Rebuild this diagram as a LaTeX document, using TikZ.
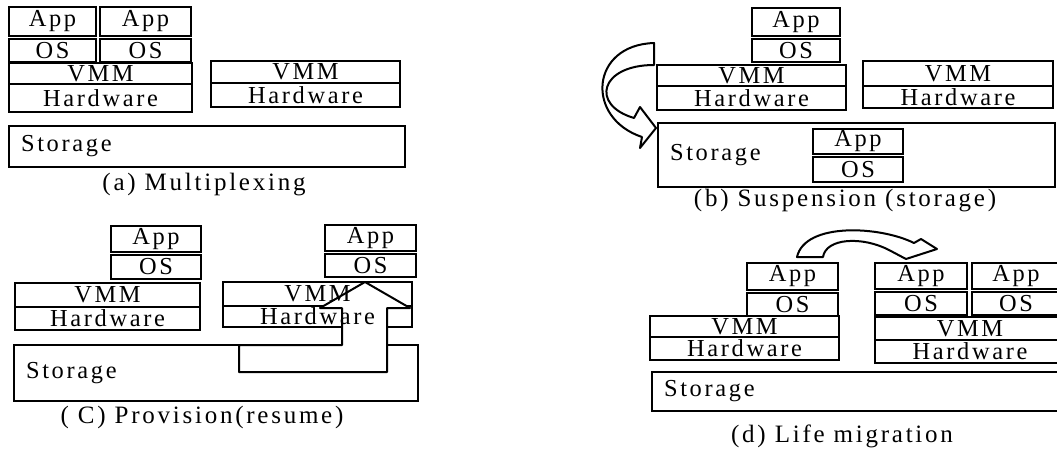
\documentclass[tikz,border=0pt]{standalone}
\usepackage{fontspec}
\setmainfont{Liberation Serif}[LetterSpace=11]
\usepackage{tikz}
\usetikzlibrary{positioning,backgrounds}

\begin{document}
\begin{tikzpicture}[x=0.5pt,y=-0.5pt]
\tikzstyle{layer}=[draw, line width=1pt, inner sep=0pt, outer sep=0pt, anchor=north west, font=\fontsize{12.2}{14}\selectfont]
\tikzstyle{stor}=[layer, align=left, inner xsep=6pt]
\tikzstyle{figcaption}=[font=\fontsize{12.5}{14}\selectfont]
\tikzstyle{blockarrow}=[line width=1pt, line join=round]
\tikzset{bw/.style={minimum width=#1*0.5pt}, bh/.style={minimum height=#1*0.5pt}}
\useasboundingbox (0,0) rectangle (1057,451);

% (a)
\node[layer, bw=87, bh=29] (appA1) at (9,7) {App};
\node[layer, bw=87, bh=23, below=1.5pt of appA1] (osA1) {OS};
\node[layer, bw=91, bh=29] (appA2) at (100,7) {App};
\node[layer, bw=91, bh=23, below=1.5pt of appA2] (osA2) {OS};
\node[layer, bw=183, bh=21] (vmmA1) at (9,63) {VMM};
\node[layer, bw=183, bh=28, below=0pt of vmmA1] (hwA1) {Hardware};
\node[layer, bw=189, bh=22] (vmmA2) at (211,61) {VMM};
\node[layer, bw=189, bh=24, below=0pt of vmmA2] (hwA2) {Hardware};
\node[stor, text width=186pt, bh=41] (storA) at (9,126) {Storage};
\node[figcaption] (capA) at (204,185) {(a) Multiplexing};

% (b)
\node[layer, bw=88, bh=28] (appB1) at (752,8) {App};
\node[layer, bw=88, bh=23, below=1.5pt of appB1] (osB1) {OS};
\node[layer, bw=189, bh=21] (vmmB1) at (657,65) {VMM};
\node[layer, bw=189, bh=24, below=0pt of vmmB1] (hwB1) {Hardware};
\node[layer, bw=190, bh=25] (vmmB2) at (863,61) {VMM};
\node[layer, bw=190, bh=22, below=0pt of vmmB2] (hwB2) {Hardware};
\node[stor, text width=186.5pt, bh=64] (storB) at (658,123) {Storage};
\node[layer, bw=90, bh=25] (appB2) at (813,129) {App};
\node[layer, bw=90, bh=25, below=1.5pt of appB2] (osB2) {OS};
\node[figcaption] (capB) at (845,201) {(b) Suspension (storage)};
\draw[blockarrow] (654,43) -- (654,65) .. controls (600,65) and (590,105) .. (634,118)
  -- (640,107) -- (656,128) -- (640,148) -- (642,137)
  .. controls (585,118) and (590,45) .. (654,43) -- cycle;

% (c)
\node[layer, bw=90, bh=26] (appC1) at (111,226) {App};
\node[layer, bw=90, bh=24, below=1.5pt of appC1] (osC1) {OS};
\node[layer, bw=185, bh=24] (vmmC1) at (15,283) {VMM};
\node[layer, bw=185, bh=23, below=0pt of vmmC1] (hwC1) {Hardware};
\node[layer, bw=91, bh=26] (appC2) at (325,225) {App};
\node[layer, bw=91, bh=23, below=1.5pt of appC2] (osC2) {OS};
\node[layer, draw=none, bw=189, bh=24] (vmmC2) at (223,282) {VMM};
\node[layer, draw=none, bw=189, bh=21, below=0pt of vmmC2] (hwC2) {Hardware};
\node[stor, draw=none, text width=190pt, bh=56] (storC) at (14,345) {Storage};
\node[figcaption] (capC) at (202,417) {( C) Provision(resume)};
\begin{scope}[on background layer]
\draw[line width=1pt] (vmmC2.north west) rectangle (hwC2.south east);
\draw[line width=1pt] (vmmC2.south west) -- (vmmC2.south east);
\draw[line width=1pt] (storC.north west) rectangle (storC.south east);
\fill[white] (365,282) -- (410,308) -- (387,308) -- (387,372) -- (239,372) -- (239,345)
  -- (342,345) -- (342,308) -- (320,308) -- cycle;
\end{scope}
\draw[blockarrow] (365,282) -- (410,308) -- (387,308) -- (387,372) -- (239,372) -- (239,345)
  -- (342,345) -- (342,308) -- (320,308) -- cycle;

% (d)
\node[layer, bw=91, bh=27] (appD1) at (747,263) {App};
\node[layer, bw=91, bh=23, below=1.5pt of appD1] (osD1) {OS};
\node[layer, bw=189, bh=21] (vmmD1) at (650,316) {VMM};
\node[layer, bw=189, bh=23, below=0pt of vmmD1] (hwD1) {Hardware};
\node[layer, bw=92, bh=26] (appD2) at (875,263) {App};
\node[layer, bw=92, bh=23, below=1.5pt of appD2] (osD2) {OS};
\node[layer, bw=88, bh=26] (appD3) at (972,263) {App};
\node[layer, bw=88, bh=23, below=1.5pt of appD3] (osD3) {OS};
\node[layer, bw=190, bh=23] (vmmD2) at (875,317) {VMM};
\node[layer, bw=190, bh=23, below=0pt of vmmD2] (hwD2) {Hardware};
\node[stor, text width=194.5pt, bh=39] (storD) at (652,372) {Storage};
\node[figcaption] (capD) at (842,436) {(d) Life migration};
\draw[blockarrow] (797,257) -- (823,257) .. controls (826,238) and (862,236) .. (889,250)
  -- (906,259) -- (937,249) -- (921,239) -- (914,243)
  .. controls (880,226) and (805,222) .. (797,257) -- cycle;
\end{tikzpicture}
\end{document}
